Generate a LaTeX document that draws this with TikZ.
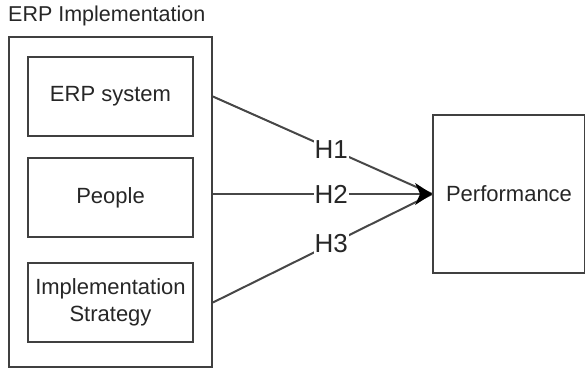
\documentclass[tikz,border=0pt]{standalone}
\usepackage{fontspec}
\setmainfont{Liberation Sans}
\usetikzlibrary{arrows.meta}

\begin{document}
\begin{tikzpicture}[x=1pt,y=-1pt,
  box/.style={draw=black!75,line width=1.8pt,inner sep=0pt,align=center,
    font=\fontsize{22}{27}\selectfont,text=black!85},
  link/.style={draw=black!72,line width=2pt},
  hyp/.style={fill=white,inner sep=1pt,pos=0.54,font=\fontsize{26}{28}\selectfont,text=black!85}]
\useasboundingbox (0,0) rectangle (585,369);
\node[box,minimum width=203,minimum height=330] (impl) at (110.5,202) {};
\node[anchor=west,inner sep=0pt,font=\fontsize{21.5}{24}\selectfont,text=black!85] (title) at (8,16) {ERP Implementation};
\node[box,minimum width=165,minimum height=79] (sys) at (110.5,96.5) {ERP system};
\node[box,minimum width=165,minimum height=79] (people) at (110.5,197.5) {People};
\node[box,minimum width=165,minimum height=79] (strat) at (110.5,302.5) {Implementation\\Strategy};
\node[box,minimum width=152,minimum height=158] (perf) at (509,194) {Performance};
\draw[link] (impl.east |- sys.east) -- node[hyp] {H1} (perf.west);
\draw[link] (impl.east |- perf.west) -- node[hyp] {H2} (perf.west);
\draw[link] (impl.east |- strat.east) -- node[hyp] {H3} (perf.west);
\fill[black] (perf.west) -- ++(-17,-11) -- ++(5,11) -- ++(-5,11) -- cycle;
\end{tikzpicture}
\end{document}
